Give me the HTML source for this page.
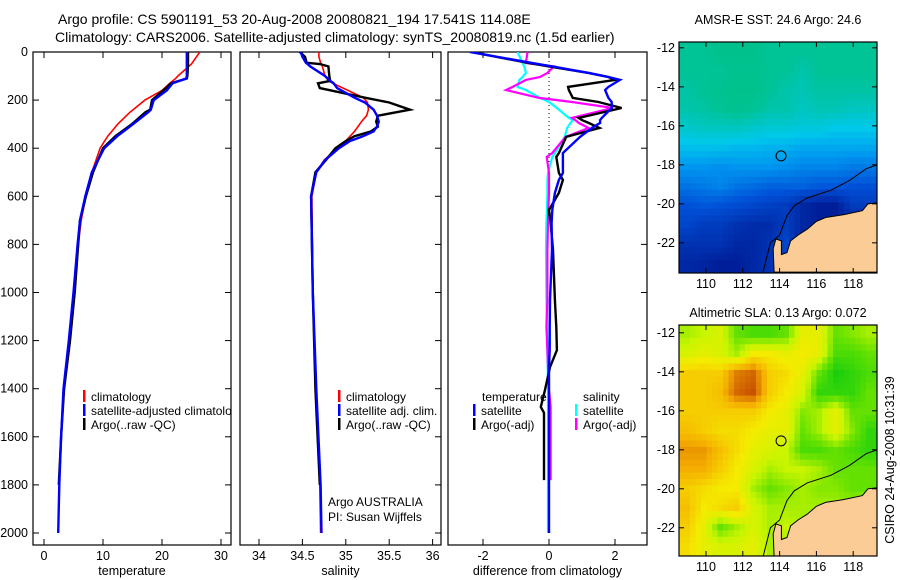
<!DOCTYPE html>
<html><head><meta charset="utf-8"><style>
html,body{margin:0;padding:0;background:#fff;}
svg{display:block;font-family:"Liberation Sans",sans-serif;}
text{fill:#000;}
</style></head><body>
<svg id="fig" width="900" height="580" viewBox="0 0 900 580">
<defs>
<clipPath id="c1"><rect x="33" y="52" width="198" height="493"/></clipPath>
<clipPath id="c2"><rect x="240" y="52" width="201" height="493"/></clipPath>
<clipPath id="c3"><rect x="448" y="52" width="199" height="493"/></clipPath>
<clipPath id="cm1"><rect x="679" y="42" width="198" height="231"/></clipPath>
<clipPath id="cm2"><rect x="679" y="325" width="198" height="231"/></clipPath>
</defs>
<text x="58" y="24" font-size="14">Argo profile: CS 5901191_53 20-Aug-2008 20080821_194 17.541S 114.08E</text>
<text x="55" y="42" font-size="14">Climatology: CARS2006. Satellite-adjusted climatology: synTS_20080819.nc (1.5d earlier)</text>
<text x="778" y="24" font-size="12.5" text-anchor="middle">AMSR-E SST: 24.6 Argo: 24.6</text>
<text x="778" y="317" font-size="12.5" text-anchor="middle">Altimetric SLA: 0.13 Argo: 0.072</text>
<text transform="translate(894,460) rotate(-90)" font-size="12.5" text-anchor="middle">CSIRO 24-Aug-2008 10:31:39</text>
<g id="layer"></g>
</svg>
<script>
// ---------- profile data (depth in m) ----------
const tDepth = [0,50,100,110,130,160,200,240,250,300,350,400,500,600,700,800,1000,1200,1400,1600,1800,2000];
const tClim  = [26.4,25,22.7,22.3,21.3,20,17.1,15.1,14.6,12.5,10.8,9.5,8.1,7.1,6.3,5.8,5.1,4.3,3.4,2.9,2.6,2.4];
const tSat   = [24.2,24.2,24.2,24.1,21.8,20.8,18.6,18.1,17.7,15.1,12.4,10.2,8.1,7.0,6.1,5.7,5.0,4.2,3.3,2.9,2.6,2.4];
const tArgo  = [24.4,24.4,24.3,24.2,21.5,20.2,18.3,18.0,17.2,14.9,12.1,10.0,8.3,7.1,6.1,5.8,5.2,4.4,3.4,2.9,2.5];
const sDepth = [0,20,45,50,60,100,120,130,150,190,210,240,265,290,310,330,350,370,400,450,500,600,1000,1400,1800,2000];
const sClim  = [34.69,34.69,34.71,34.72,34.73,34.76,34.8,34.85,34.97,35.2,35.25,35.26,35.24,35.18,35.14,35.1,35.05,35.0,34.9,34.75,34.66,34.61,34.62,34.66,34.70,34.71];
const sSat   = [34.48,34.5,34.54,34.56,34.59,34.76,34.82,34.86,34.9,35.1,35.22,35.32,35.36,35.38,35.36,35.32,35.2,35.05,34.92,34.76,34.66,34.6,34.62,34.66,34.71,34.72];
const sArgo  = [34.47,34.53,34.55,34.7,34.8,34.81,34.82,34.68,34.7,35.22,35.5,35.74,35.37,35.35,35.37,35.29,35.1,35.0,34.88,34.77,34.65,34.6,34.62,34.65,34.7];
const dDepth = [0,46,60,87,104,116,145,158,191,208,233,274,283,295,316,353,420,436,503,532,586,657,711,823,1031,1143,1240,1310,1405,1476,1500,1780,2000];
const dTsat  = [-2.4,-0.5,0.1,1.2,1.8,2.15,1.8,1.7,1.8,1.9,1.9,1.6,1.55,1.55,1.3,0.94,0.42,0.42,0.42,0.3,0.18,0.1,0.08,0.09,0.03,0.02,0.02,0.0,0.0,0.0,0.0,0.0,0.0];
const dTargo = [-2.35,-0.6,0.0,1.2,1.8,2.0,0.58,0.6,0.72,1.5,2.2,0.9,1.0,1.2,1.53,0.52,0.3,0.22,0.3,0.42,0.3,0.0,0.05,0.12,0.18,0.22,0.24,0.03,-0.12,-0.25,-0.15,-0.15];
const dSsat  = [-0.95,-0.8,-0.75,-0.7,-0.8,-0.9,-0.95,-0.7,-0.27,0.0,0.24,0.6,0.73,0.65,0.55,0.48,0.18,0.1,-0.03,-0.05,-0.05,-0.06,-0.08,-0.09,-0.08,-0.06,-0.05,-0.04,-0.03,-0.03,-0.03,-0.03,-0.03];
const dSargo = [-0.65,-0.7,0.15,-0.05,-0.27,-0.7,-1.1,-1.3,-0.3,0.7,1.94,0.7,0.8,0.9,1.2,0.5,0.1,-0.07,0.0,0.0,0.0,-0.02,-0.03,-0.05,-0.05,-0.08,-0.05,-0.03,0.0,0.05,0.05,0.05];
const depthTicks = [0,200,400,600,800,1000,1200,1400,1600,1800,2000];
const tTicks = [0,10,20,30];
const sTicks = [34,34.5,35,35.5,36];
const dTicks = [-2,0,2];
// ---------- map data ----------
const lonTicks = [110,112,114,116,118];
const latTicks = [-12,-14,-16,-18,-20,-22];
const sstGrid = [
[.85,.85,.9,.9,.9,.85,.85,.85,.85,.85,.85,.85],
[.85,.85,.85,.88,.88,.85,.85,.8,.85,.85,.85,.85],
[.82,.85,.88,.9,.9,.85,.8,.78,.82,.82,.82,.82],
[.8,.82,.85,.88,.85,.8,.8,.75,.78,.78,.75,.75],
[.72,.75,.75,.75,.72,.7,.7,.68,.68,.65,.65,.65],
[.62,.62,.62,.6,.6,.58,.58,.55,.55,.55,.55,.55],
[.5,.5,.48,.5,.5,.5,.48,.45,.45,.45,.42,.42],
[.4,.42,.45,.4,.38,.35,.35,.35,.32,.32,.3,.3],
[.3,.32,.3,.28,.25,.22,.2,.1,.05,.05,.2,.2],
[.25,.2,.2,.15,.12,.12,.2,.1,.05,.05,.05,.05],
[.15,.15,.15,.1,.1,.15,.25,.05,.05,.05,.05,.05],
[.1,.08,.05,.05,.1,.15,.2,.1,.1,.1,.1,.1]];
const slaGrid = [
[.3,.35,.4,.2,.15,.15,.2,.45,.45,.2,.25,.3],
[.4,.45,.4,.3,.5,.5,.45,.5,.45,.15,.15,.2],
[.6,.6,.6,.8,.85,.6,.55,.45,.2,.05,.1,.15],
[.6,.6,.65,.85,.9,.6,.5,.4,.1,.1,.1,.2],
[.6,.6,.6,.6,.6,.5,.45,.25,.3,.45,.2,.2],
[.65,.6,.55,.55,.5,.45,.45,.2,.3,.45,.25,.1],
[.75,.75,.65,.55,.45,.4,.35,.15,.15,.2,.15,.1],
[.7,.7,.6,.5,.4,.3,.35,.35,.3,.2,.2,.2],
[.6,.55,.5,.5,.3,.2,.25,.3,.25,.25,.2,.2],
[.65,.5,.55,.6,.4,.3,.3,.3,.3,.3,.3,.3],
[.6,.45,.2,.3,.4,.3,.35,.3,.3,.3,.3,.3],
[.55,.45,.4,.4,.45,.3,.3,.3,.3,.3,.3,.3]];
const landLon = [119.3,118.8,118.5,117.5,116.5,116,115.5,115,114.6,114.4,114.1,114.1,113.8,113.65,113.7,119.3];
const landLat = [-19.95,-20,-20.35,-20.55,-20.7,-20.9,-21.3,-21.6,-21.9,-22.5,-22.6,-21.9,-21.8,-22.3,-23.5,-23.5];
const isoLon = [113.1,113.5,114.0,114.4,114.8,115.5,116.8,117.8,118.7,119.3];
const isoLat = [-23.5,-22.0,-21.6,-20.6,-20.1,-19.7,-19.3,-18.8,-18.2,-18.0];
const argoLon = [114.08];
const argoLat = [-17.54];

const NS='http://www.w3.org/2000/svg';
const layer=document.getElementById('layer');
function mk(tag,attrs,parent){const e=document.createElementNS(NS,tag);for(const k in attrs)e.setAttribute(k,attrs[k]);(parent||layer).appendChild(e);return e;}
const yD=d=>52+d*0.2405;
const xT=v=>44+v*5.9;
const xS=v=>259+(v-34)*86.8;
const xDf=v=>549+v*33;

function panel(name,x0,w,clip,ticks,xf,label,leftLabels){
  const g=mk('g',{});
  
  
  const r=mk('rect',{x:x0,y:52,width:w,height:493,fill:'#fff',stroke:'#000','stroke-width':1.2},g);
  
  
  depthTicks.forEach(d=>{
    const y=yD(d);
    if(leftLabels){mk('line',{x1:x0,x2:x0+6,y1:y,y2:y,stroke:'#000'},g);
      const t=mk('text',{x:x0-5,y:y+4,'font-size':12.5,'text-anchor':'end'},g);t.textContent=d;
      
      }
    mk('line',{x1:x0+w-6,x2:x0+w,y1:y,y2:y,stroke:'#000'},g);
  });
  ticks.forEach(v=>{
    const x=xf(v);
    mk('line',{x1:x,x2:x,y1:545,y2:539,stroke:'#000'},g);
    mk('line',{x1:x,x2:x,y1:52,y2:58,stroke:'#000'},g);
    const t=mk('text',{x:x,y:560,'font-size':12.5,'text-anchor':'middle'},g);t.textContent=v;
    
    
  });
  const L=mk('text',{x:x0+w/2,y:575,'font-size':12.5,'text-anchor':'middle'},g);L.textContent=label;
  
  
  return g;
}
function line(xs,depths,xf,color,w,clip,name){
  const n=Math.min(xs.length,depths.length);
  let p='';for(let i=0;i<n;i++)p+=(i?'L':'M')+xf(xs[i]).toFixed(1)+','+yD(depths[i]).toFixed(1);
  const e=mk('path',{d:p,fill:'none',stroke:color,'stroke-width':w,'clip-path':'url(#'+clip+')','stroke-linejoin':'miter'});
  
  
}
function legend(x,y,color,txt,clip){
  const m=mk('rect',{x:x,y:y-11,width:2.5,height:12,fill:color});
  
  
  const t=mk('text',{x:x+8,y:y,'font-size':12});
  if(clip)t.setAttribute('clip-path','url(#'+clip+')');
  t.textContent=txt;
  
  
}
panel('temperature-panel',33,198,'c1',tTicks,xT,'temperature',true);
panel('salinity-panel',240,201,'c2',sTicks,xS,'salinity',false);
panel('difference-panel',448,199,'c3',dTicks,xDf,'difference from climatology',false);
const z=mk('line',{x1:549,x2:549,y1:53,y2:195,stroke:'#000','stroke-dasharray':'1,3'});



line(tClim,tDepth.slice(0,tClim.length),xT,'#f00',1.6,'c1','temp-climatology-line');
line(tArgo,tDepth,xT,'#000',2.4,'c1','temp-argo-line');
line(tSat,tDepth,xT,'#00f',2.4,'c1','temp-satellite-line');
line(sClim,sDepth,xS,'#f00',1.6,'c2','sal-climatology-line');
line(sArgo,sDepth,xS,'#000',2.4,'c2','sal-argo-line');
line(sSat,sDepth,xS,'#00f',2.4,'c2','sal-satellite-line');
line(dSsat,dDepth,xDf,'#0ff',2.2,'c3','sal-satellite-diff-line');
line(dSargo,dDepth,xDf,'#f0f',2.2,'c3','sal-argo-diff-line');
line(dTargo,dDepth,xDf,'#000',2.4,'c3','temp-argo-diff-line');
line(dTsat,dDepth,xDf,'#00f',2.4,'c3','temp-satellite-diff-line');

legend(83,401,'#f00','climatology','c1');
legend(83,415,'#00f','satellite-adjusted climatology','c1');
legend(83,429,'#000','Argo(..raw -QC)','c1');
legend(338,401,'#f00','climatology','c2');
legend(338,415,'#00f','satellite adj. clim.','c2');
legend(338,429,'#000','Argo(..raw -QC)','c2');
[['Argo AUSTRALIA',550],['PI: Susan Wijffels',565]].forEach(a=>{
  const t=mk('text',{x:328,y:a[1]-44,'font-size':12});t.textContent=a[0];
  
  
});
{const t=mk('text',{x:482,y:401,'font-size':12});t.textContent='temperature';


const u=mk('text',{x:583,y:401,'font-size':12});u.textContent='salinity';

}
legend(473,415,'#00f','satellite');
legend(473,429,'#000','Argo(-adj)');
legend(575,415,'#0ff','satellite');
legend(575,429,'#f0f','Argo(-adj)');

// ---------- maps ----------
function lerp(a,b,t){return a+(b-a)*t;}
function ramp(stops,v){
  for(let i=1;i<stops.length;i++){if(v<=stops[i][0]){const a=stops[i-1],b=stops[i];const t=(v-a[0])/(b[0]-a[0]);
    return 'rgb('+[1,2,3].map(k=>Math.round(lerp(a[k],b[k],t))).join(',')+')';}}
  const s=stops[stops.length-1];return 'rgb('+s[1]+','+s[2]+','+s[3]+')';
}
const sstStops=[[0,0,20,140],[0.3,0,80,215],[0.5,0,150,240],[0.65,0,200,235],[0.85,0,195,150],[1,0,190,120]];
const slaStops=[[0,0,200,20],[0.2,100,225,0],[0.35,200,245,0],[0.5,245,235,0],[0.7,245,175,0],[0.9,200,80,0],[1,180,60,0]];
function drawMap(name,top,grid,stops,clip){
  const x0=679,w=198,h=231,latT=top===42?-11.7:-11.6;
  const dy=19.5;
  const yl=la=>top+(latT-la)*dy;
  const xl=lo=>706+(lo-110)*18.4;
  const g=mk('g',{'clip-path':'url(#'+clip+')'});
  
  
  const nr=grid.length,nc=grid[0].length,cw=w/nc,ch=h/nr;
  const sub=3;
  for(let r=0;r<nr*sub;r++)for(let c=0;c<nc*sub;c++){
    const fr=Math.min(nr-1,Math.max(0,(r+0.5)/sub-0.5)),fc=Math.min(nc-1,Math.max(0,(c+0.5)/sub-0.5));
    const r0=Math.floor(fr),c0=Math.floor(fc),r1=Math.min(nr-1,r0+1),c1=Math.min(nc-1,c0+1),tr=fr-r0,tc=fc-c0;
    const v=lerp(lerp(grid[r0][c0],grid[r0][c1],tc),lerp(grid[r1][c0],grid[r1][c1],tc),tr);
    const cell=mk('rect',{x:(x0+c*cw/sub).toFixed(2),y:(top+r*ch/sub).toFixed(2),width:(cw/sub+0.6).toFixed(2),height:(ch/sub+0.6).toFixed(2),fill:ramp(stops,v)},g);
    
    
  }
  const land=mk('polygon',{points:landLon.map((lo,i)=>xl(lo).toFixed(1)+','+yl(landLat[i]).toFixed(1)).join(' '),fill:'#fccc96',stroke:'#000','stroke-width':1},g);
  
  
  const iso=mk('polyline',{points:isoLon.map((lo,i)=>xl(lo).toFixed(1)+','+yl(isoLat[i]).toFixed(1)).join(' '),fill:'none',stroke:'#000','stroke-width':1},g);
  
  
  const ci=mk('circle',{cx:xl(argoLon[0]),cy:yl(argoLat[0]),r:5,fill:'none',stroke:'#000','stroke-width':1});
  
  
  const fr=mk('rect',{x:x0,y:top,width:w,height:h,fill:'none',stroke:'#000','stroke-width':1.2});
  
  
  latTicks.forEach(la=>{const y=yl(la);
    mk('line',{x1:x0,x2:x0+5,y1:y,y2:y,stroke:'#000'});mk('line',{x1:x0+w-5,x2:x0+w,y1:y,y2:y,stroke:'#000'});
    const t=mk('text',{x:x0-4,y:y+4,'font-size':12.5,'text-anchor':'end'});t.textContent=la;
    
    });
  lonTicks.forEach(lo=>{const x=xl(lo);
    mk('line',{x1:x,x2:x,y1:top,y2:top+5,stroke:'#000'});mk('line',{x1:x,x2:x,y1:top+h-5,y2:top+h,stroke:'#000'});
    const t=mk('text',{x:x,y:top+h+15,'font-size':12.5,'text-anchor':'middle'});t.textContent=lo;
    
    });
}
drawMap('sst-map',42,sstGrid,sstStops,'cm1');
drawMap('sla-map',325,slaGrid,slaStops,'cm2');
</script>
</body></html>
